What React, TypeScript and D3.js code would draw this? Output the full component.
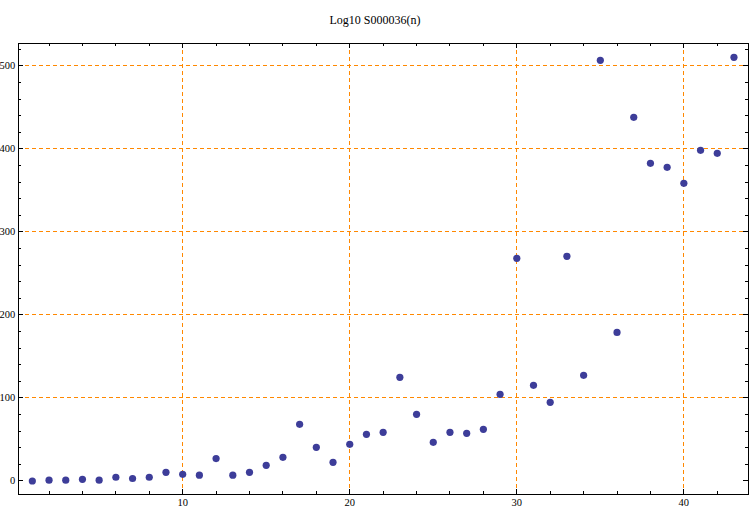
import React from "react";
import * as d3 from "d3";

const title = "Log10 S000036(n)";
const nValues = Array.from({ length: 43 }, (_, i) => i + 1);
const logValues = [
  0, 1, 1, 2, 1, 4.5, 3, 4.5, 10.5, 8,
  7, 27, 7, 10.5, 18.9, 28.5, 68.3, 40.6, 22.5, 44.2,
  56.2, 58.6, 124.9, 80.3, 46.6, 58.6, 57.4, 62.3, 104.4, 268.2,
  115.2, 94.8, 270.6, 127.3, 506.7, 179, 438, 382.6, 377.8, 358.5,
  398.3, 394.7, 510.3,
];
const xMajorTicks = [10, 20, 30, 40];
const yMajorTicks = [0, 100, 200, 300, 400, 500];

const W = 750;
const H = 509;
const left = 18.3;
const right = 748;
const top = 43.3;
const bottom = 494;

export default function App() {
  const x = d3.scaleLinear().domain([0.16, 43.84]).range([left, right]);
  const y = d3.scaleLinear().domain([-15.66, 527.2]).range([bottom, top]);

  const xMinor = d3.range(2, 44, 2).filter((v) => v % 10 !== 0);
  const yMinor = d3.range(-0, 521, 20).filter((v) => v % 100 !== 0);
  const orange = "#FF8800";
  const dot = "#3D3D99";
  const font = "'Liberation Serif', 'DejaVu Serif', serif";

  return (
    <svg width={W} height={H} style={{ position: "absolute", left: 0, top: 0, background: "#fff" }}>
      <text x={375} y={23.5} textAnchor="middle" fontFamily={font} fontSize={12} fill="#000">
        {title}
      </text>
      {/* grid */}
      {xMajorTicks.map((t) => (
        <line key={"gx" + t} x1={x(t)} x2={x(t)} y1={top} y2={bottom} stroke={orange} strokeWidth={1} strokeDasharray="4,3" shapeRendering="crispEdges" />
      ))}
      {yMajorTicks.filter((t) => t !== 0).map((t) => (
        <line key={"gy" + t} x1={left} x2={right} y1={y(t)} y2={y(t)} stroke={orange} strokeWidth={1} strokeDasharray="4,3" shapeRendering="crispEdges" />
      ))}
      {/* frame */}
      <rect x={left} y={top} width={right - left} height={bottom - top} fill="none" stroke="#000" strokeWidth={1} shapeRendering="crispEdges" />
      {/* x ticks */}
      {xMajorTicks.map((t) => (
        <g key={"xt" + t} shapeRendering="crispEdges">
          <line x1={x(t)} x2={x(t)} y1={bottom} y2={bottom - 5} stroke="#000" />
          <line x1={x(t)} x2={x(t)} y1={top} y2={top + 5} stroke="#000" />
          <text x={x(t)} y={bottom + 12} textAnchor="middle" fontFamily={font} fontSize={10.5}>{t}</text>
        </g>
      ))}
      {xMinor.map((t) => (
        <g key={"xm" + t} shapeRendering="crispEdges">
          <line x1={x(t)} x2={x(t)} y1={bottom} y2={bottom - 3} stroke="#000" />
          <line x1={x(t)} x2={x(t)} y1={top} y2={top + 3} stroke="#000" />
        </g>
      ))}
      {yMajorTicks.map((t) => (
        <g key={"yt" + t} shapeRendering="crispEdges">
          <line x1={left} x2={left + 5} y1={y(t)} y2={y(t)} stroke="#000" />
          <line x1={right} x2={right - 5} y1={y(t)} y2={y(t)} stroke="#000" />
          <text x={left - 3} y={y(t) + 3.5} textAnchor="end" fontFamily={font} fontSize={10.5}>{t}</text>
        </g>
      ))}
      {yMinor.map((t) => (
        <g key={"ym" + t} shapeRendering="crispEdges">
          <line x1={left} x2={left + 3} y1={y(t)} y2={y(t)} stroke="#000" />
          <line x1={right} x2={right - 3} y1={y(t)} y2={y(t)} stroke="#000" />
        </g>
      ))}
      {nValues.map((n, i) => (
        <circle key={"p" + n} cx={x(n)} cy={y(logValues[i])} r={3.6} fill={dot} />
      ))}
    </svg>
  );
}
